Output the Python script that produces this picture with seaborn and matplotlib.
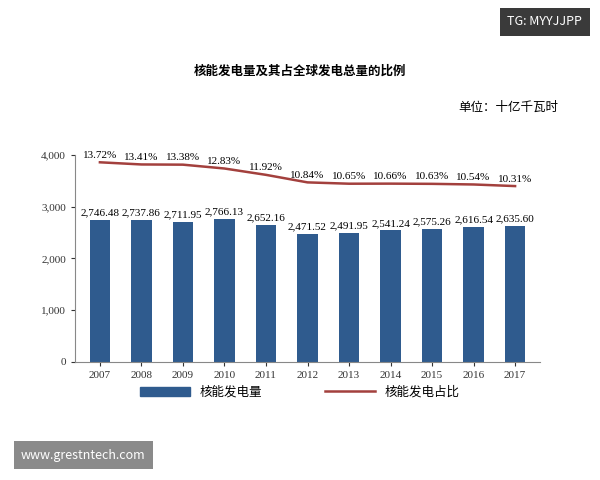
import matplotlib.pyplot as plt
import seaborn as sns
import pandas as pd
from matplotlib.patches import Patch
from matplotlib.lines import Line2D

years = ['2007', '2008', '2009', '2010', '2011', '2012', '2013', '2014', '2015', '2016', '2017']
generation = [2746.48, 2737.86, 2711.95, 2766.13, 2652.16, 2471.52, 2491.95, 2541.24, 2575.26, 2616.54, 2635.60]
share = [13.72, 13.41, 13.38, 12.83, 11.92, 10.84, 10.65, 10.66, 10.63, 10.54, 10.31]

plt.rcParams['font.family'] = ['Noto Sans CJK SC', 'DejaVu Sans']
df = pd.DataFrame({'year': years, 'gen': generation, 'share': share})

fig = plt.figure(figsize=(6, 4.8), dpi=100)
fig.patch.set_facecolor('white')

ax = fig.add_axes([0.125, 0.246, 0.775, 0.431])
sns.barplot(data=df, x='year', y='gen', color='#2f5b8e', width=0.5, saturation=1, ax=ax)
ax.set_ylim(0, 4000)
ax.set_yticks([0, 1000, 2000, 3000, 4000])
ax.set_yticklabels(['0', '1,000', '2,000', '3,000', '4,000'], fontsize=8, fontfamily='Liberation Serif')
ax.set_xticks(range(len(years)))
ax.set_xticklabels(years, fontsize=8, fontfamily='Liberation Serif')
ax.set_xlabel(''); ax.set_ylabel('')
for s in ['top', 'right']:
    ax.spines[s].set_visible(False)
ax.spines['left'].set_color('#888'); ax.spines['bottom'].set_color('#888')
ax.tick_params(length=3, colors='#333')
for i, v in enumerate(generation):
    ax.text(i, v + 50, f'{v:,.2f}', ha='center', va='bottom', fontsize=8, fontfamily='Liberation Serif')

ax2 = ax.twinx()
sns.lineplot(x=list(range(len(years))), y=share, color='#a3403d', lw=1.8, ax=ax2)
ax2.set_ylim(-14.9, 14.76)
ax2.axis('off')
for i, v in enumerate(share):
    ax2.text(i, v + 0.35, f'{v:.2f}%', ha='center', va='bottom', fontsize=8, fontfamily='Liberation Serif')
ax.set_xlim(-0.6, len(years) - 0.4)

fig.text(0.5, 0.845, '核能发电量及其占全球发电总量的比例', ha='center', fontsize=9, fontweight='bold')
fig.text(0.93, 0.77, '单位：十亿千瓦时', ha='right', fontsize=9)

handles = [Patch(color='#2f5b8e', label='核能发电量'),
           Line2D([], [], color='#a3403d', lw=1.8, label='核能发电占比')]
fig.legend(handles=handles, loc='center', bbox_to_anchor=(0.5, 0.183), ncol=2, frameon=False,
           fontsize=9, handlelength=4, columnspacing=5)

fig.text(0.97, 0.955, 'TG: MYYJJPP', ha='right', va='center', fontsize=9, color='white',
         bbox=dict(boxstyle='square,pad=0.6', fc='#3a3a3a', ec='none'))
fig.text(0.035, 0.052, 'www.grestntech.com', ha='left', va='center', fontsize=9, color='white',
         bbox=dict(boxstyle='square,pad=0.6', fc='#8a8a8a', ec='none'))

fig.savefig('out.png', dpi=100)
